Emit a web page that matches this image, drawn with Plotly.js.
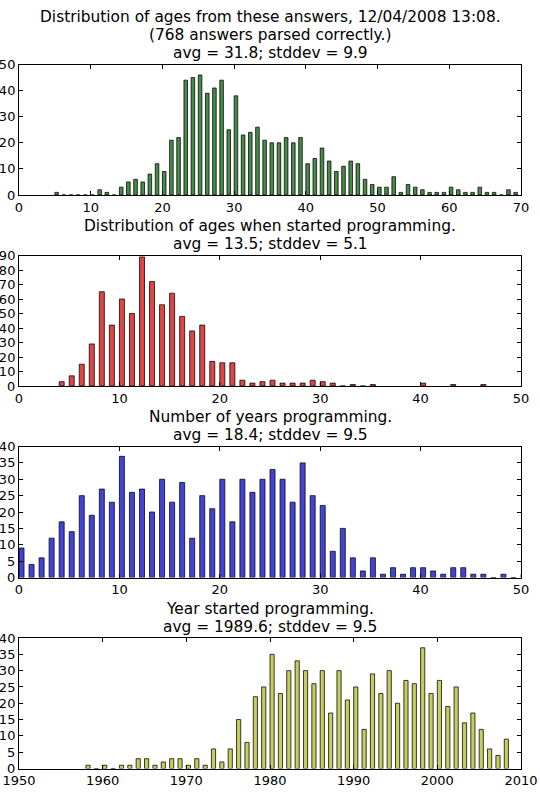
<!DOCTYPE html>
<html>
<head>
<meta charset="utf-8">
<script src="https://cdn.plot.ly/plotly-3.0.1.min.js"></script>
<style>
  html, body { margin: 0; padding: 0; background: #fff; }
  #chart { width: 540px; height: 793px; }
</style>
</head>
<body>
<div id="chart"></div>
<script>
// ---- Data ----
// Panel 1: current age
var ageX = [5,6,7,8,9,10,11,12,13,14,15,16,17,18,19,20,21,22,23,24,25,26,27,28,29,30,31,32,33,34,35,36,37,38,39,40,41,42,43,44,45,46,47,48,49,50,51,52,53,54,55,56,57,58,59,60,61,62,63,64,65,66,67,68,69];
var ageCount = [1,0,0,0,0,0,2,1,0,3,5,6,5,8,12,9,21,22,44,45,46,39,41,44,25,38,23,24,26,21,20,20,22,20,22,12,14,18,13,9,11,13,12,6,4,3,3,7,1,4,3,2,1,1,1,3,2,1,1,3,1,1,0,2,1];

// Panel 2: age when started programming
var startAgeX = [4,5,6,7,8,9,10,11,12,13,14,15,16,17,18,19,20,21,22,23,24,25,26,27,28,29,30,31,32,33,34,35,40,43,46];
var startAgeCount = [3,7,15,29,65,42,60,50,89,72,56,64,48,38,42,17,16,16,4,2,3,4,2,2,2,4,3,2,0,1,0,1,2,1,1];

// Panel 3: number of years programming
var yearsX = [0,1,2,3,4,5,6,7,8,9,10,11,12,13,14,15,16,17,18,19,20,21,22,23,24,25,26,27,28,29,30,31,32,33,34,35,36,37,38,39,40,41,42,43,44,45,46,47,48,49,50];
var yearsCount = [9,4,6,12,17,14,25,19,27,23,37,26,27,20,30,23,29,12,25,21,30,17,30,26,30,33,30,23,35,25,22,8,15,6,2,6,1,3,1,3,3,2,1,3,3,1,1,0,1,0,1];

// Panel 4: year started programming
var startYearX = [1958,1959,1960,1961,1962,1963,1964,1965,1966,1967,1968,1969,1970,1971,1972,1973,1974,1975,1976,1977,1978,1979,1980,1981,1982,1983,1984,1985,1986,1987,1988,1989,1990,1991,1992,1993,1994,1995,1996,1997,1998,1999,2000,2001,2002,2003,2004,2005,2006,2007,2008];
var startYearCount = [1,0,1,0,1,1,3,3,1,2,3,3,1,3,1,6,2,6,15,8,22,25,35,23,30,33,30,26,30,17,30,21,25,12,29,23,30,20,27,26,37,23,27,19,25,14,17,12,6,4,9];

// Titles
var titles = [
  ["Distribution of ages from these answers, 12/04/2008 13:08.", "(768 answers parsed correctly.)", "avg = 31.8; stddev = 9.9"],
  ["Distribution of ages when started programming.", "avg = 13.5; stddev = 5.1"],
  ["Number of years programming.", "avg = 18.4; stddev = 9.5"],
  ["Year started programming.", "avg = 1989.6; stddev = 9.5"]
];

(function () {
  var H = 793;
  var FONT = "DejaVu Sans, Liberation Sans, sans-serif";
  // pixel top/bottom of each axes box
  var boxes = [[64.5, 195], [255.5, 386], [446.5, 577.5], [638, 768.5]];
  var xRanges = [[0,70],[0,50],[0,50],[1950,2010]];
  var yRanges = [[0,50],[0,90],[0,40],[0,40]];
  var yDtick = [10,10,5,5];
  var colors = ["#468c46", "#dc4646", "#4343d6", "#c6cc5e"];
  var xs = [ageX, startAgeX, yearsX, startYearX];
  var ys = [ageCount, startAgeCount, yearsCount, startYearCount];

  var traces = [];
  var layout = {
    width: 540, height: 793,
    margin: {l: 19, r: 19, t: 0, b: 0, pad: 0},
    paper_bgcolor: "#ffffff",
    plot_bgcolor: "#ffffff",
    showlegend: false,
    font: {family: FONT, size: 13, color: "#000"},
    annotations: []
  };

  function axisCommon() {
    return {
      showgrid: false, zeroline: false,
      showline: true, linecolor: "#000", linewidth: 1, mirror: "ticks",
      ticks: "inside", ticklen: 4, tickwidth: 1, tickcolor: "#000",
      tickfont: {family: FONT, size: 13, color: "#000"},
      fixedrange: true
    };
  }

  for (var i = 0; i < 4; i++) {
    var n = i === 0 ? "" : String(i + 1);
    traces.push({
      type: "bar",
      x: xs[i], y: ys[i],
      xaxis: "x" + n, yaxis: "y" + n,
      width: 0.5, offset: 0,
      marker: {color: colors[i], line: {color: "rgba(0,0,0,0.75)", width: 1}},
      hoverinfo: "x+y"
    });
    var boxTop = boxes[i][0], boxBot = boxes[i][1];
    var xa = axisCommon();
    xa.range = xRanges[i];
    xa.dtick = 10; xa.tick0 = xRanges[i][0];
    xa.domain = [0, 1];
    xa.anchor = "y" + n;
    var ya = axisCommon();
    ya.range = yRanges[i];
    ya.dtick = yDtick[i]; ya.tick0 = 0;
    ya.domain = [1 - boxBot / H, 1 - boxTop / H];
    ya.anchor = "x" + n;
    layout["xaxis" + n] = xa;
    layout["yaxis" + n] = ya;

    var lines = titles[i];
    for (var k = 0; k < lines.length; k++) {
      var fromBottom = lines.length - 1 - k;
      var ypx = boxTop - 11.5 - 18 * fromBottom;
      layout.annotations.push({
        text: lines[k],
        xref: "paper", yref: "paper",
        x: 0.5, y: 1 - ypx / H,
        xanchor: "center", yanchor: "middle",
        showarrow: false,
        font: {family: FONT, size: 15.4, color: "#000"}
      });
    }
  }

  Plotly.newPlot("chart", traces, layout, {displayModeBar: false, staticPlot: true});
})();
</script>
</body>
</html>
